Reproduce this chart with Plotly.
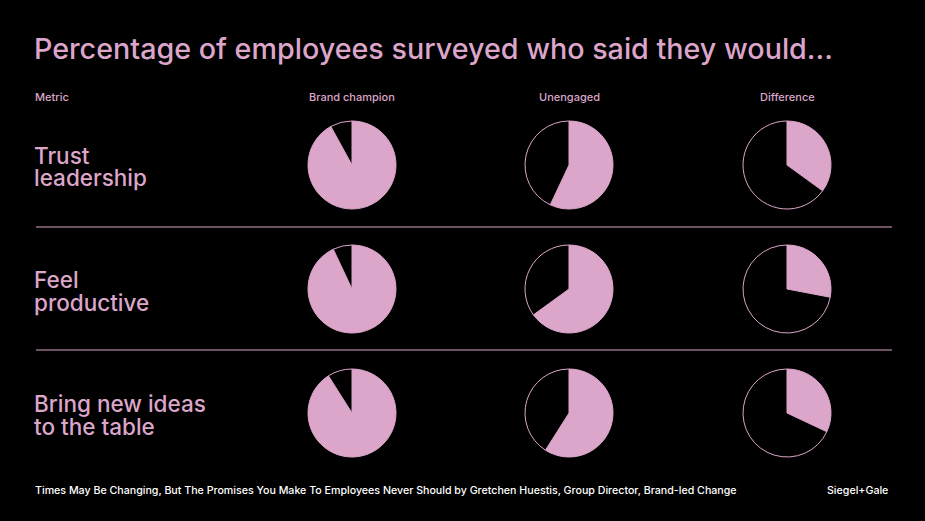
import plotly.graph_objects as go

metrics = [["Trust", "leadership"], ["Feel", "productive"], ["Bring new ideas", "to the table"]]
columns = ["Brand champion", "Unengaged", "Difference"]
brand_champion = [92, 93, 91]
unengaged = [57, 65, 59]
difference = [35, 28, 32]

title = "Percentage of employees surveyed who said they would..."
footer = "Times May Be Changing, But The Promises You Make To Employees Never Should by Gretchen Huestis, Group Director, Brand-led Change"
brand = "Siegel+Gale"

PINK = "#DCA6CA"
BG = "#000000"
W, H = 925, 521
FONT = "Inter"

col_x = [352, 569, 787]
row_y = [165, 289, 413]
R = 44

fig = go.Figure()
series = [brand_champion, unengaged, difference]
for ci, vals in enumerate(series):
    for ri, v in enumerate(vals):
        cx, cy = col_x[ci], row_y[ri]
        fig.add_trace(go.Pie(
            values=[v, 100 - v],
            labels=["Yes", "No"],
            sort=False,
            direction="clockwise",
            rotation=0,
            marker=dict(colors=[PINK, BG], line=dict(color=PINK, width=1)),
            textinfo="none",
            hoverinfo="label+value",
            showlegend=False,
            domain=dict(x=[(cx - R) / W, (cx + R) / W],
                        y=[1 - (cy + R) / H, 1 - (cy - R) / H]),
        ))

def txt(t, x, y, size, color=PINK, anchor="left", weight=500):
    return dict(text=t, x=x / W, y=1 - y / H, xref="paper", yref="paper",
                xanchor=anchor, yanchor="middle", showarrow=False,
                font=dict(family=FONT, size=size, color=color, weight=weight))

ann = [txt(title, 32, 48, 28.7), txt("Metric", 33, 97, 11)]
for ci, c in enumerate(columns):
    ann.append(txt(c, col_x[ci], 97, 11, anchor="center"))
for ri, (l1, l2) in enumerate(metrics):
    ann.append(txt(l1, 32, row_y[ri] - 10, 22.5))
    ann.append(txt(l2, 32, row_y[ri] + 13, 22.5))
ann.append(txt(footer, 33, 490, 10.65, color="#FFFFFF"))
ann.append(txt(brand, 890, 490, 10.65, color="#FFFFFF", anchor="right"))

shapes = []
for yy in [227, 350]:
    shapes.append(dict(type="line", xref="paper", yref="paper",
                       x0=36 / W, x1=892 / W, y0=1 - yy / H, y1=1 - yy / H,
                       line=dict(color=PINK, width=1)))

fig.update_layout(
    width=W, height=H,
    margin=dict(l=0, r=0, t=0, b=0),
    paper_bgcolor=BG, plot_bgcolor=BG,
    annotations=ann, shapes=shapes,
)
fig.write_html("out.html", config={"displayModeBar": False},
               post_script="document.body.style.margin='0';document.body.style.background='#000';")
